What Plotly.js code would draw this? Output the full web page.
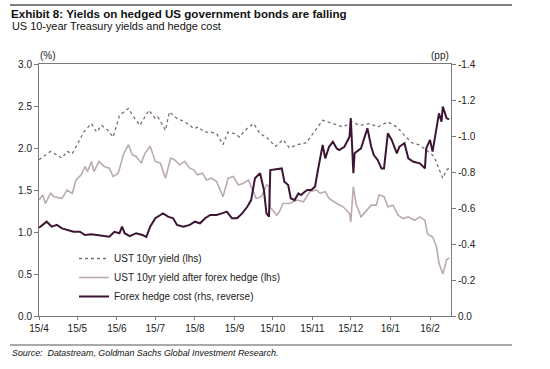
<!DOCTYPE html>
<html>
<head>
<meta charset="utf-8">
<script src="https://cdn.plot.ly/plotly-3.0.1.min.js"></script>
<style>html,body{margin:0;padding:0;background:#fff;}#chart{width:550px;height:369px;}</style>
</head>
<body>
<div id="chart"></div>
<script>
// ---- Data ----
const ustDates = [
 "2015-04-01","2015-04-10","2015-04-19","2015-04-23","2015-04-27","2015-05-01","2015-05-06","2015-05-12","2015-05-16","2015-05-20",
 "2015-05-25","2015-05-29","2015-06-03","2015-06-10","2015-06-14","2015-06-19","2015-06-26","2015-07-01","2015-07-03","2015-07-09",
 "2015-07-12","2015-07-18","2015-07-23","2015-07-28","2015-07-31","2015-08-04","2015-08-08","2015-08-13","2015-08-18","2015-08-23",
 "2015-08-27","2015-09-01","2015-09-05","2015-09-09","2015-09-16","2015-09-21","2015-09-26","2015-10-03","2015-10-09","2015-10-14",
 "2015-10-20","2015-10-27","2015-11-02","2015-11-09","2015-11-17","2015-11-25","2015-12-02","2015-12-08","2015-12-16","2015-12-22",
 "2015-12-30","2016-01-06","2016-01-12","2016-01-18","2016-01-23","2016-01-29","2016-02-04","2016-02-07","2016-02-11","2016-02-14",
 "2016-02-16"];
const ustYield = [
 1.86,1.96,1.88,1.96,1.93,2.05,2.19,2.29,2.19,2.27,
 2.21,2.13,2.39,2.47,2.37,2.27,2.45,2.35,2.37,2.21,
 2.43,2.35,2.32,2.27,2.23,2.25,2.19,2.19,2.17,2.04,
 2.19,2.17,2.13,2.21,2.29,2.17,2.13,2.02,2.10,2.00,
 2.04,2.06,2.19,2.33,2.29,2.25,2.31,2.27,2.29,2.25,
 2.31,2.25,2.15,2.06,2.04,1.98,1.90,1.78,1.64,1.74,
 1.76];

const hedgedDates = [
 "2015-04-01","2015-04-04","2015-04-06","2015-04-10","2015-04-13","2015-04-19","2015-04-23","2015-04-27","2015-04-30","2015-05-04",
 "2015-05-07","2015-05-09","2015-05-12","2015-05-14","2015-05-18","2015-05-22","2015-05-26","2015-05-29","2015-06-02","2015-06-06",
 "2015-06-10","2015-06-13","2015-06-16","2015-06-20","2015-06-23","2015-06-27","2015-07-01","2015-07-05","2015-07-09","2015-07-13",
 "2015-07-16","2015-07-20","2015-07-24","2015-07-28","2015-07-31","2015-08-03","2015-08-07","2015-08-10","2015-08-14","2015-08-18",
 "2015-08-23","2015-08-27","2015-08-31","2015-09-04","2015-09-08","2015-09-12","2015-09-14","2015-09-18","2015-09-22","2015-09-26",
 "2015-09-28","2015-09-29","2015-10-01","2015-10-04","2015-10-06","2015-10-09","2015-10-14","2015-10-20","2015-10-25","2015-10-30",
 "2015-11-04","2015-11-07","2015-11-11","2015-11-14","2015-11-20","2015-11-25","2015-11-30","2015-12-01","2015-12-03","2015-12-05",
 "2015-12-09","2015-12-14","2015-12-17","2015-12-21","2015-12-23","2015-12-27","2015-12-30","2016-01-03","2016-01-07","2016-01-11",
 "2016-01-15","2016-01-20","2016-01-24","2016-01-28","2016-01-30","2016-02-03","2016-02-06","2016-02-08","2016-02-11","2016-02-14",
 "2016-02-16"];
const hedgedYield = [
 1.38,1.44,1.34,1.46,1.42,1.40,1.50,1.46,1.62,1.68,
 1.78,1.72,1.84,1.72,1.84,1.78,1.76,1.66,1.70,1.92,
 2.04,1.92,1.90,1.82,1.94,2.02,1.84,1.82,1.64,1.88,
 1.86,1.80,1.84,1.76,1.74,1.68,1.70,1.62,1.64,1.60,
 1.42,1.64,1.66,1.56,1.58,1.62,1.54,1.40,1.42,1.56,
 1.55,1.29,1.26,1.20,1.24,1.34,1.34,1.38,1.36,1.48,
 1.50,1.46,1.48,1.40,1.34,1.30,1.22,1.12,1.54,1.34,
 1.18,1.26,1.32,1.32,1.44,1.42,1.30,1.32,1.20,1.16,
 1.18,1.14,1.18,1.14,0.98,0.94,0.83,0.63,0.50,0.67,
 0.69];

const hedgeDates = [
 "2015-04-01","2015-04-07","2015-04-11","2015-04-15","2015-04-19","2015-04-23","2015-04-28","2015-05-03","2015-05-07","2015-05-12",
 "2015-05-17","2015-05-22","2015-05-26","2015-05-30","2015-06-03","2015-06-05","2015-06-07","2015-06-11","2015-06-16","2015-06-21",
 "2015-06-24","2015-06-27","2015-07-01","2015-07-05","2015-07-07","2015-07-11","2015-07-15","2015-07-18","2015-07-23","2015-07-28",
 "2015-08-01","2015-08-05","2015-08-09","2015-08-13","2015-08-18","2015-08-22","2015-08-26","2015-08-30","2015-09-03","2015-09-07",
 "2015-09-11","2015-09-14","2015-09-17","2015-09-21","2015-09-24","2015-09-26","2015-09-28","2015-09-29","2015-10-04","2015-10-08",
 "2015-10-10","2015-10-13","2015-10-15","2015-10-18","2015-10-21","2015-10-23","2015-10-26","2015-10-28","2015-10-31","2015-11-03",
 "2015-11-05","2015-11-08","2015-11-09","2015-11-11","2015-11-14","2015-11-17","2015-11-20","2015-11-22","2015-11-26","2015-11-30",
 "2015-12-01","2015-12-03","2015-12-04","2015-12-09","2015-12-12","2015-12-14","2015-12-17","2015-12-19","2015-12-22","2015-12-25",
 "2015-12-27","2015-12-30","2016-01-02","2016-01-06","2016-01-08","2016-01-12","2016-01-15","2016-01-19","2016-01-24","2016-01-28",
 "2016-01-29","2016-02-01","2016-02-03","2016-02-06","2016-02-08","2016-02-10","2016-02-11","2016-02-14","2016-02-16"];
const hedgeCost = [
 -0.49,-0.524,-0.496,-0.506,-0.487,-0.478,-0.468,-0.468,-0.45,-0.454,
 -0.45,-0.444,-0.44,-0.468,-0.46,-0.496,-0.46,-0.444,-0.46,-0.45,
 -0.44,-0.496,-0.543,-0.561,-0.57,-0.552,-0.543,-0.506,-0.496,-0.506,
 -0.524,-0.515,-0.543,-0.561,-0.561,-0.57,-0.58,-0.543,-0.543,-0.57,
 -0.607,-0.644,-0.765,-0.793,-0.70,-0.57,-0.552,-0.811,-0.815,-0.82,
 -0.746,-0.728,-0.654,-0.644,-0.681,-0.672,-0.69,-0.70,-0.70,-0.718,
 -0.80,-0.922,-0.95,-0.876,-0.94,-0.968,-0.931,-0.922,-0.94,-0.996,
 -1.10,-0.793,-0.904,-0.931,-0.996,-1.043,-0.94,-0.894,-0.867,-0.82,
 -0.82,-1.015,-0.978,-0.904,-0.94,-0.96,-0.876,-0.857,-0.848,-0.82,
 -0.931,-0.978,-0.913,-1.052,-1.126,-1.08,-1.163,-1.098,-1.092];

const monthTicks = ["2015-04-01","2015-05-01","2015-06-01","2015-07-01","2015-08-01","2015-09-01","2015-10-01","2015-11-01","2015-12-01","2016-01-01","2016-02-01"];
const monthLabels = ["15/4","15/5","15/6","15/7","15/8","15/9","15/10","15/11","15/12","16/1","16/2"];
const lhsTicks = [0,0.5,1,1.5,2,2.5,3];
const lhsLabels = ["0.0","0.5","1.0","1.5","2.0","2.5","3.0"];
const rhsTicks = [0,-0.2,-0.4,-0.6,-0.8,-1.0,-1.2,-1.4];
const rhsLabels = ["0.0","-0.2","-0.4","-0.6","-0.8","-1.0","-1.2","-1.4"];
const seriesNames = ["UST 10yr yield (lhs)","UST 10yr yield after forex hedge (lhs)","Forex hedge cost (rhs, reverse)"];

// ---- Chart ----
const FONT = "Liberation Sans, Arial, sans-serif";
const traces = [
  {x: ustDates, y: ustYield, name: seriesNames[0], type: "scatter", mode: "lines",
   line: {color: "#7d6b77", width: 1.3, dash: "dot"}},
  {x: hedgedDates, y: hedgedYield, name: seriesNames[1], type: "scatter", mode: "lines",
   line: {color: "#bcaab3", width: 1.6}},
  {x: hedgeDates, y: hedgeCost, name: seriesNames[2], type: "scatter", mode: "lines", yaxis: "y2",
   line: {color: "#3d1533", width: 2}}
];

const axisCommon = {showgrid: false, zeroline: false, showline: true, linecolor: "#7a7a7a", linewidth: 1,
  ticks: "outside", ticklen: 3, tickcolor: "#7a7a7a", tickfont: {family: FONT, size: 10, color: "#222"}};

const layout = {
  width: 550, height: 369,
  margin: {l: 39, r: 99, t: 64, b: 53},
  paper_bgcolor: "#fff", plot_bgcolor: "#fff",
  font: {family: FONT, size: 10, color: "#222"},
  title: {text: "<b>Exhibit 8: Yields on hedged US government bonds are falling</b>",
    font: {family: FONT, size: 11.6, color: "#111"},
    xref: "container", x: 11/550, xanchor: "left", yref: "container", y: 1 - 14/369, yanchor: "middle"},
  showlegend: true,
  legend: {x: (74-39)/412, y: (316-244)/252, xanchor: "left", yanchor: "top",
    font: {family: FONT, size: 10, color: "#222"}, bgcolor: "rgba(0,0,0,0)", itemwidth: 30},
  xaxis: Object.assign({}, axisCommon, {type: "date", range: ["2015-04-01", "2016-02-17 10:00"],
    tickvals: monthTicks, ticktext: monthLabels, mirror: true}),
  yaxis: Object.assign({}, axisCommon, {range: [0, 3], tickvals: lhsTicks, ticktext: lhsLabels, ticklen: 4}),
  yaxis2: Object.assign({}, axisCommon, {overlaying: "y", side: "right", range: [0, -1.4],
    tickvals: rhsTicks, ticktext: rhsLabels, ticklen: 4}),
  annotations: [
    {text: "US 10-year Treasury yields and hedge cost", xref: "paper", yref: "paper",
     x: (10-39)/412, y: (316-26)/252, xanchor: "left", yanchor: "middle", showarrow: false,
     font: {family: FONT, size: 10.9, color: "#111"}},
    {text: "(%)", xref: "paper", yref: "paper", x: (48-39)/412, y: (316-56)/252,
     xanchor: "center", yanchor: "middle", showarrow: false, font: {family: FONT, size: 10, color: "#222"}},
    {text: "(pp)", xref: "paper", yref: "paper", x: (440-39)/412, y: (316-56)/252,
     xanchor: "center", yanchor: "middle", showarrow: false, font: {family: FONT, size: 10, color: "#222"}},
    {text: "<i>Source:  Datastream, Goldman Sachs Global Investment Research.</i>", xref: "paper", yref: "paper",
     x: (10-39)/412, y: (316-353)/252, xanchor: "left", yanchor: "middle", showarrow: false,
     font: {family: FONT, size: 8.9, color: "#111"}}
  ],
  shapes: [
    {type: "line", xref: "paper", yref: "paper", x0: (10-39)/412, x1: (512-39)/412,
     y0: (316-5)/252, y1: (316-5)/252, line: {color: "#555", width: 1.5}},
    {type: "line", xref: "paper", yref: "paper", x0: (10-39)/412, x1: (512-39)/412,
     y0: (316-345)/252, y1: (316-345)/252, line: {color: "#555", width: 1.2}}
  ]
};

Plotly.newPlot("chart", traces, layout, {staticPlot: true, displayModeBar: false});
</script>
</body>
</html>
